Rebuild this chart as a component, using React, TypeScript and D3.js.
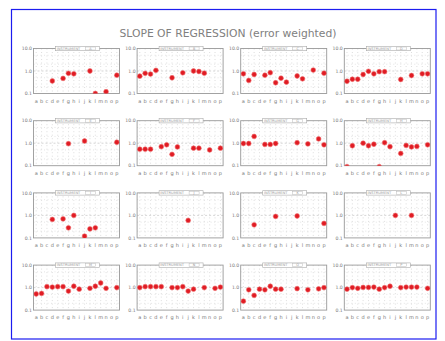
import React from 'react';
import * as d3 from 'd3';

const letters = 'abcdefghijklmnop'.split('');
const yTicks = [10, 1, 0.1];
const yTickLabels = ['10.0', '1.0', '0.1'];
const instruments = ['A', 'B', 'C', 'D', 'E', 'F', 'G', 'H', 'I', 'J', 'K', 'L', 'M', 'N', 'O', 'P'];

// each panel: [letter, slope]
const panel1: [string, number][] = [['d', 0.36], ['f', 0.47], ['g', 0.79], ['h', 0.75], ['k', 1.0], ['l', 0.1], ['n', 0.12], ['p', 0.65]];
const panel2: [string, number][] = [['a', 0.59], ['b', 0.79], ['c', 0.73], ['d', 1.07], ['g', 0.5], ['i', 0.83], ['k', 1.0], ['l', 0.95], ['m', 0.8]];
const panel3: [string, number][] = [['a', 0.75], ['b', 0.38], ['c', 0.7], ['e', 0.65], ['f', 0.84], ['g', 0.3], ['h', 0.48], ['i', 0.32], ['k', 0.6], ['l', 0.45], ['n', 1.1], ['p', 0.8]];
const panel4: [string, number][] = [['a', 0.35], ['b', 0.43], ['c', 0.43], ['d', 0.7], ['e', 0.97], ['f', 0.75], ['g', 0.93], ['h', 0.93], ['k', 0.42], ['m', 0.63], ['o', 0.75], ['p', 0.75]];
const panel5: [string, number][] = [['g', 0.95], ['j', 1.25], ['p', 1.1]];
const panel6: [string, number][] = [['a', 0.54], ['b', 0.54], ['c', 0.54], ['e', 0.7], ['f', 0.85], ['g', 0.32], ['h', 0.68], ['k', 0.6], ['l', 0.6], ['n', 0.5], ['p', 0.6]];
const panel7: [string, number][] = [['a', 0.97], ['b', 0.97], ['c', 2.0], ['e', 0.88], ['f', 0.88], ['g', 0.97], ['k', 1.05], ['m', 0.93], ['o', 1.55], ['p', 0.85]];
const panel8: [string, number][] = [['a', 0.09], ['b', 0.77], ['d', 1.0], ['e', 0.77], ['f', 0.9], ['g', 0.09], ['h', 1.05], ['i', 0.7], ['k', 0.35], ['l', 0.8], ['m', 0.68], ['n', 0.72], ['p', 0.85]];
const panel9: [string, number][] = [['d', 0.66], ['f', 0.7], ['g', 0.28], ['h', 1.0], ['j', 0.12], ['k', 0.25], ['l', 0.28]];
const panel10: [string, number][] = [['j', 0.6]];
const panel11: [string, number][] = [['c', 0.38], ['g', 0.9], ['k', 0.94], ['p', 0.44]];
const panel12: [string, number][] = [['j', 1.0], ['m', 1.0]];
const panel13: [string, number][] = [['a', 0.52], ['b', 0.55], ['c', 1.1], ['d', 1.05], ['e', 1.1], ['f', 1.1], ['g', 0.7], ['h', 1.15], ['i', 0.85], ['k', 0.93], ['l', 1.15], ['m', 1.6], ['n', 0.93], ['p', 1.0]];
const panel14: [string, number][] = [['a', 1.0], ['b', 1.1], ['c', 1.1], ['d', 1.1], ['e', 1.1], ['g', 1.0], ['h', 1.0], ['i', 1.1], ['j', 0.7], ['k', 0.85], ['m', 1.0], ['o', 0.93], ['p', 1.05]];
const panel15: [string, number][] = [['a', 0.25], ['b', 0.8], ['c', 0.45], ['d', 0.85], ['e', 0.8], ['f', 1.15], ['g', 0.85], ['h', 0.85], ['k', 0.9], ['m', 0.8], ['o', 0.88], ['p', 1.0]];
const panel16: [string, number][] = [['a', 0.85], ['b', 1.0], ['c', 0.93], ['d', 1.02], ['e', 1.02], ['f', 1.05], ['g', 0.85], ['h', 1.0], ['i', 1.15], ['k', 1.0], ['l', 1.05], ['m', 1.05], ['n', 1.05], ['p', 0.93]];

const panels = [panel1, panel2, panel3, panel4, panel5, panel6, panel7, panel8, panel9, panel10, panel11, panel12, panel13, panel14, panel15, panel16];

const W = 445;
const H = 341;
const panelW = 86;
const panelH = 45;
const panelX = (c: number) => 33.5 + c * 103.6;
const panelY = (r: number) => 48.5 + r * 72.2;

const x = d3.scalePoint<string>().domain(letters).range([0, panelW]).padding(0.5);
const y = d3.scaleLog().domain([0.1, 10]).range([panelH, 0]);
const gridLevels = [0.2, 0.5, 2, 5];

function Panel({ data, idx }: { data: [string, number][]; idx: number }) {
  const r = Math.floor(idx / 4);
  const c = idx % 4;
  const clipId = `clip${idx}`;
  return (
    <g transform={`translate(${panelX(c)},${panelY(r)})`}>
      <defs>
        <clipPath id={clipId}>
          <rect x={0} y={0} width={panelW} height={panelH} />
        </clipPath>
      </defs>
      {letters.map((l) => (
        <line key={l} x1={x(l)} x2={x(l)} y1={0} y2={panelH} stroke="#c8c8c8" strokeWidth={0.6} strokeDasharray="1,2.5" />
      ))}
      {gridLevels.map((v) => (
        <line key={v} x1={0} x2={panelW} y1={y(v)} y2={y(v)} stroke="#d4d4d4" strokeWidth={0.6} strokeDasharray="1,2.5" />
      ))}
      <line x1={0} x2={panelW} y1={y(1)} y2={y(1)} stroke="#bbb" strokeWidth={0.6} strokeDasharray="2,2" />
      <rect x={0} y={0} width={panelW} height={panelH} fill="none" stroke="#999" strokeWidth={0.9} />
      <g clipPath={`url(#${clipId})`}>
        {data.map(([l, v]) => (
          <circle key={l} cx={x(l)} cy={y(v)} r={2.4} fill="#e01c24" stroke="#f07070" strokeWidth={0.6} />
        ))}
      </g>
      <rect x={22} y={-2.2} width={44} height={4.4} fill="#fff" stroke="#aaa" strokeWidth={0.6} />
      <text x={35} y={1.3} fontSize={3.6} fill="#999" textAnchor="middle" fontFamily="DejaVu Sans">INSTRUMENT</text>
      <rect x={52} y={-1.5} width={10} height={3} fill="#fff" stroke="#bbb" strokeWidth={0.5} />
      <text x={57} y={1.2} fontSize={3.4} fill="#999" textAnchor="middle" fontFamily="DejaVu Sans">{instruments[idx]}</text>
      {yTicks.map((t, i) => (
        <text key={t} x={-1.5} y={y(t) + 1.7} fontSize={4.6} fill="#777" textAnchor="end" fontFamily="DejaVu Sans">
          {yTickLabels[i]}
        </text>
      ))}
      {letters.map((l) => (
        <text key={l} x={x(l)} y={panelH + 9} fontSize={5} fill="#777" textAnchor="middle" fontFamily="DejaVu Sans">
          {l}
        </text>
      ))}
    </g>
  );
}

export default function App() {
  return (
    <svg width={W} height={H} style={{ position: 'absolute', left: 0, top: 0, background: '#fff' }}>
      <rect x={11.5} y={9.5} width={424.5} height={329.5} fill="#fff" stroke="#1c1cf0" strokeWidth={1.2} />
      <text x={228} y={37} fontSize={10} fill="#808080" textAnchor="middle" fontFamily="DejaVu Sans" textLength={217} lengthAdjust="spacingAndGlyphs">
        SLOPE OF REGRESSION (error weighted)
      </text>
      {panels.map((p, i) => (
        <Panel key={i} data={p} idx={i} />
      ))}
    </svg>
  );
}
